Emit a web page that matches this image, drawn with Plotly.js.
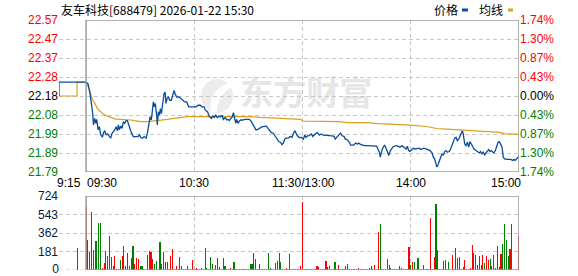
<!DOCTYPE html>
<html><head><meta charset="utf-8">
<script src="https://cdn.plot.ly/plotly-3.0.1.min.js"></script>
<style>html,body{margin:0;padding:0;background:#fff;}#chart{width:578px;height:276px;}</style>
</head><body><div id="chart"></div>
<script>
// ---------------- data ----------------
const stockName = "友车科技";
const stockCode = "688479";
const stamp = "2026-01-22 15:30";
const prevClose = 22.18;
const maxPct = 1.74;
const priceTickLabels = ["22.57","22.47","22.37","22.28","22.18","22.08","21.99","21.89","21.79"];
const pctTickLabels = ["1.74%","1.30%","0.87%","0.43%","0.00%","0.43%","0.87%","1.30%","1.74%"];
const volTickVals = [0,181,362,543,724];
const timeLabels = ["9:15","09:30","10:30","11:30/13:00","14:00","15:00"];
const timeLabelPos = [-15,0,60,120,180,240];   // minutes from 09:30
const legendNames = ["价格","均线"];
const watermark = "东方财富";

// price line (minutes from 09:30, price)
const priceTimes = [-15,-15,0,1.1,2.2,3.0,3.7,4.1,4.8,5.4,5.9,6.7,7.4,8.1,9.1,9.6,10.3,11.1,11.8,12.7,13.7,14.4,15.2,15.9,16.6,17.4,17.9,18.5,19.2,20.0,20.7,21.4,22.2,22.9,23.7,24.4,25.1,26.2,27.5,28.8,29.6,30.3,31.2,32.2,33.3,34.0,34.9,35.5,36.2,36.8,37.3,37.9,38.4,39.2,39.5,40.1,40.7,41.2,41.8,42.5,43.2,43.8,44.3,44.9,45.6,46.4,47.3,48.0,48.8,49.3,50.3,51.5,52.5,53.6,54.7,55.8,56.9,58.0,59.9,61.0,62.1,63.2,64.3,65.4,66.1,67.3,68.4,69.5,70.2,71.0,71.9,72.8,73.7,74.6,75.4,76.1,77.2,78.0,78.7,79.5,80.2,80.9,81.7,82.4,83.0,83.5,84.3,85.0,85.7,86.8,87.9,89.4,90.5,91.3,92.2,93.1,94.2,95.3,96.5,97.6,98.7,99.8,100.9,101.6,102.7,103.8,104.6,105.7,106.8,107.9,108.6,109.4,110.1,110.9,112.0,113.1,114.2,114.9,115.7,116.4,117.1,118.3,119.5,120.5,121.2,121.9,122.7,123.4,124.1,124.9,125.6,126.4,127.1,128.2,129.3,130.4,131.5,133.4,135.2,136.3,137.4,138.2,138.9,139.7,140.4,141.1,141.9,143.0,143.7,144.8,146.0,146.7,148.2,149.6,150.4,151.1,151.9,153.0,154.1,155.6,156.7,157.8,158.9,160.0,161.1,161.8,162.6,163.1,163.7,164.2,164.8,165.5,166.3,167.0,167.8,168.5,169.2,170.0,170.7,171.8,172.9,174.0,175.1,176.3,177.4,178.1,178.8,179.6,180.7,181.4,182.5,183.6,184.7,185.5,186.2,187.3,188.4,189.6,190.7,191.8,192.5,193.2,194.0,194.5,195.1,195.8,196.6,197.3,198.1,198.8,199.5,200.3,201.4,202.1,202.9,203.6,204.3,205.1,205.8,206.6,207.3,208.0,208.6,209.1,209.9,210.6,211.4,212.1,212.8,213.6,214.3,215.1,216.2,217.3,218.0,218.7,219.5,220.2,221.0,221.7,222.4,223.2,223.9,224.7,225.4,226.1,226.9,227.6,228.4,229.1,229.8,230.6,231.3,232.0,233.2,234.3,235.4,236.5,237.2,237.9,238.7,239.4,240.0];
const priceValues = [22.18,22.25,22.25,22.242,22.192,22.142,22.091,22.033,22.066,22.041,22.061,22.008,22.024,21.983,21.971,21.991,22.004,21.983,21.988,21.978,21.966,21.991,22.000,22.008,22.024,22.004,22.033,22.008,22.028,22.016,22.050,22.041,22.055,22.055,22.033,22.008,21.994,21.974,21.974,21.974,21.983,21.969,21.966,21.974,21.966,21.991,22.041,22.075,22.058,22.108,22.150,22.125,22.142,22.075,22.033,22.100,22.083,22.116,22.091,22.142,22.192,22.200,22.142,22.167,22.175,22.158,22.158,22.183,22.208,22.192,22.175,22.175,22.167,22.158,22.150,22.150,22.125,22.125,22.125,22.125,22.133,22.133,22.125,22.125,22.108,22.100,22.075,22.066,22.078,22.071,22.083,22.071,22.078,22.075,22.083,22.061,22.071,22.058,22.061,22.055,22.066,22.071,22.095,22.066,22.041,22.061,22.041,22.053,22.058,22.058,22.061,22.061,22.061,22.055,22.041,22.024,22.008,22.011,22.016,22.024,22.024,22.028,22.016,22.008,21.994,21.991,21.978,21.966,21.949,21.944,21.933,21.941,21.961,21.966,21.966,21.974,21.971,21.988,22.004,21.991,21.978,21.969,21.970,21.961,21.981,21.970,21.978,21.978,21.981,21.987,21.975,21.981,21.987,21.995,21.981,21.987,21.981,21.981,21.981,21.978,21.975,21.961,21.970,21.978,21.988,21.992,21.978,21.975,21.961,21.958,21.945,21.931,21.931,21.941,21.935,21.941,21.936,21.931,21.928,21.928,21.928,21.925,21.928,21.928,21.925,21.911,21.895,21.870,21.895,21.911,21.920,21.931,21.915,21.898,21.878,21.898,21.911,21.920,21.925,21.928,21.925,21.920,21.928,21.920,21.911,21.925,21.903,21.898,21.911,21.915,21.911,21.915,21.915,21.908,21.911,21.915,21.911,21.908,21.903,21.891,21.869,21.861,21.836,21.819,21.831,21.853,21.869,21.886,21.881,21.898,21.903,21.895,21.898,21.911,21.928,21.948,21.965,21.970,21.953,21.961,21.978,21.995,22.003,21.987,21.936,21.928,21.945,21.920,21.948,21.936,21.920,21.911,21.903,21.898,21.891,21.898,21.886,21.895,21.881,21.891,21.898,21.908,21.898,21.903,21.895,21.891,21.903,21.928,21.945,21.948,21.936,21.920,21.869,21.861,21.858,21.858,21.858,21.853,21.858,21.853,21.861,21.869,21.874];

// average price line
const avgTimes = [-15,-5,-5,0,1.7,2.6,3.5,4.4,5.4,6.3,8.1,10.0,11.8,13.7,16.4,19.2,22.9,24.8,26.6,30.3,34.0,37.7,41.4,45.1,48.8,52.5,56.2,72.8,91.3,96.8,106.1,113.5,119.0,120.4,129.7,140.8,144.5,155.6,162.0,170.3,179.6,188.8,194.4,199.9,207.3,214.7,222.1,229.5,232.2,240.0];
const avgValues = [22.18,22.18,22.25,22.25,22.217,22.183,22.162,22.150,22.133,22.116,22.100,22.086,22.078,22.071,22.063,22.061,22.061,22.058,22.055,22.050,22.050,22.053,22.055,22.061,22.066,22.070,22.075,22.075,22.075,22.071,22.066,22.063,22.061,22.052,22.050,22.050,22.045,22.045,22.040,22.037,22.032,22.025,22.015,22.012,22.008,22.003,21.998,21.995,21.988,21.985];

// volume: 09:25 auction, then one bar per minute 09:30 .. 15:00 (241 bars)
const auctionTime = -5;
const auctionVolume = 215;
const auctionDir = 1;
const volumes = [629,292,177,570,193,282,282,462,462,20,72,183,138,334,128,39,138,7,7,95,138,236,39,167,39,118,236,59,118,111,39,39,7,7,151,183,177,111,59,85,13,275,59,177,79,79,13,138,210,7,39,13,128,39,13,7,39,7,13,95,7,20,13,13,20,13,216,20,13,128,59,13,46,118,30,13,118,39,13,7,20,13,79,13,7,13,7,13,7,7,7,62,62,167,111,13,62,7,13,13,13,167,20,7,13,69,88,167,79,7,13,20,13,157,7,13,13,13,13,39,668,
7,7,7,7,7,7,7,39,29,7,7,7,88,29,39,7,7,79,7,46,7,7,7,39,59,7,7,7,7,7,20,7,7,7,7,7,20,39,7,52,7,373,452,7,7,7,105,52,20,7,7,7,7,39,20,7,7,7,226,52,79,79,7,118,7,7,52,7,7,7,511,7,128,642,193,7,7,85,98,7,79,7,147,7,216,118,128,7,29,95,7,13,20,249,167,144,52,138,52,147,72,138,95,111,39,147,20,236,26,157,255,452,295,138,203,452,0,0,0,328];
const volDirs = [1,-1,-1,-1,-1,1,-1,-1,-1,1,1,1,-1,-1,1,1,1,-1,1,-1,1,1,1,-1,1,-1,-1,1,1,1,-1,-1,-1,-1,1,1,1,1,-1,-1,1,-1,1,1,-1,1,1,1,1,-1,1,-1,-1,-1,-1,1,-1,1,1,1,-1,1,-1,1,1,-1,-1,-1,1,-1,-1,-1,1,-1,1,1,-1,-1,1,-1,1,-1,-1,1,-1,1,1,1,-1,-1,-1,-1,-1,-1,-1,1,1,-1,1,1,1,-1,-1,1,1,-1,-1,1,-1,1,1,1,1,1,-1,1,-1,-1,1,1,1,
-1,1,1,1,-1,-1,1,1,1,-1,1,1,1,1,1,1,-1,-1,-1,1,1,1,-1,1,-1,1,1,-1,1,1,1,-1,1,1,1,1,1,1,1,1,1,1,-1,-1,1,1,1,-1,-1,1,-1,1,1,-1,1,1,-1,1,1,-1,1,-1,1,-1,1,1,1,-1,-1,1,1,-1,1,-1,-1,1,1,1,1,1,-1,-1,1,1,1,1,1,-1,1,1,-1,1,1,1,-1,1,-1,1,-1,1,-1,1,1,-1,-1,1,-1,1,-1,1,-1,-1,-1,-1,1,1,1,-1,1,1,1,1];

// ---------------- derived ----------------
const yLo = prevClose * (1 - maxPct / 100);
const yHi = prevClose * (1 + maxPct / 100);
const steps = [4,3,2,1,0,-1,-2,-3,-4];
const priceTickVals = steps.map(k => prevClose * (1 + k * maxPct / 400));
const RED = '#ff0000', GREEN = '#008000', BLACK = '#000000';
const stepColor = k => k > 0 ? RED : (k < 0 ? GREEN : BLACK);
const priceTickText = priceTickLabels.map((t, j) => `<span style="color:${stepColor(steps[j])}">${t}</span>`);
const pctTickText = pctTickLabels.map((t, j) => `<span style="color:${stepColor(steps[j])}">${t}</span>`);
const volX = [auctionTime].concat(volumes.map((v, j) => j));
const volY = [auctionVolume].concat(volumes);
const volC = [auctionDir].concat(volDirs).map(d => d > 0 ? RED : GREEN);
const volMax = volTickVals[volTickVals.length - 1];
const volUpperTicks = volTickVals.filter(v => v > 0);

const BLUE = '#0a4d9c', GOLD = '#dba11f';
const GRID = '#c8c8c8', FRAME = '#9a9a9a';
const NUMFONT = 'Liberation Sans, Arial, sans-serif';
const CJK = 'Noto Sans CJK SC, sans-serif';
const VOLLABEL = '#0b1a3a';

const traces = [
  {x: avgTimes, y: avgValues, type: 'scatter', mode: 'lines', xaxis: 'x', yaxis: 'y',
   line: {color: GOLD, width: 1.2}, hoverinfo: 'skip'},
  {x: priceTimes, y: priceValues, type: 'scatter', mode: 'lines', xaxis: 'x', yaxis: 'y',
   line: {color: BLUE, width: 1.3}, hoverinfo: 'skip'},
  {x: [0], y: [prevClose], type: 'scatter', mode: 'lines', xaxis: 'x', yaxis: 'y3',
   line: {color: 'rgba(0,0,0,0)'}, hoverinfo: 'skip'},
  {x: volX, y: volY, type: 'bar', xaxis: 'x2', yaxis: 'y2', width: 0.6,
   marker: {color: volC, line: {width: 0}}, hoverinfo: 'skip'},
  // the "0" label of the volume axis (sits on the panel's bottom edge)
  {x: [-15], y: [volTickVals[0]], type: 'scatter', mode: 'text', xaxis: 'x2', yaxis: 'y2',
   text: [String(volTickVals[0])], textposition: 'middle left', cliponaxis: false,
   textfont: {family: NUMFONT, size: 12, color: VOLLABEL}, hoverinfo: 'skip'}
];

const gridX = {tickvals: [-15, 60, 120, 180], showticklabels: false, ticks: '', showgrid: true,
  gridcolor: GRID, griddash: '4px,3px', gridwidth: 1, zeroline: false, showline: false,
  range: [-15, 240], fixedrange: true};

const layout = {
  width: 578, height: 276,
  margin: {l: 59, r: 59, t: 20, b: 6, pad: 0},
  paper_bgcolor: '#ffffff', plot_bgcolor: 'rgba(0,0,0,0)',
  showlegend: false, bargap: 0,
  font: {family: NUMFONT, size: 12, color: BLACK},
  xaxis: Object.assign({domain: [0, 1], anchor: 'y'}, gridX),
  xaxis2: Object.assign({domain: [0, 1], anchor: 'y2'}, gridX),
  yaxis: {domain: [0.392, 1], range: [yLo, yHi], tickvals: priceTickVals, ticktext: priceTickText,
    ticks: '', showgrid: true, gridcolor: GRID, griddash: '4px,3px', gridwidth: 1,
    zeroline: false, showline: false, fixedrange: true, tickfont: {family: NUMFONT, size: 12}},
  yaxis3: {overlaying: 'y', side: 'right', anchor: 'x', range: [yLo, yHi], tickvals: priceTickVals,
    ticktext: pctTickText, ticks: '', showgrid: false, zeroline: false, showline: false,
    fixedrange: true, tickfont: {family: NUMFONT, size: 12}},
  yaxis2: {domain: [0, 0.296], range: [0, volMax], tickvals: volUpperTicks, ticktext: volUpperTicks.map(String),
    ticks: '', showgrid: true, gridcolor: GRID, griddash: '4px,3px', gridwidth: 1,
    zeroline: false, showline: false, fixedrange: true,
    tickfont: {family: NUMFONT, size: 12, color: VOLLABEL}},
  shapes: [
    // watermark logo + text (below traces)
    {type: 'circle', xref: 'paper', yref: 'paper', x0: 0.3087, x1: 0.3783, y0: 0.628, y1: 0.764,
     fillcolor: '#ececec', line: {width: 0}, layer: 'below'},
    {type: 'path', xref: 'paper', yref: 'paper',
     path: 'M 0.372,0.752 Q 0.322,0.715 0.330,0.632 L 0.343,0.632 Q 0.345,0.705 0.378,0.735 Z',
     fillcolor: '#ffffff', line: {width: 0}, layer: 'below'},
    {type: 'rect', xref: 'paper', yref: 'paper', x0: 0.385, x1: 0.69, y0: 0.62, y1: 0.77,
     line: {width: 0}, fillcolor: 'rgba(0,0,0,0)', layer: 'below',
     label: {text: watermark, textposition: 'middle center',
       font: {family: CJK, size: 33, color: '#e6e6e6', weight: 700}}},
    // dashed bottom grid line of volume panel (pre-market part)
    {type: 'line', xref: 'x2', yref: 'y2', x0: -15, x1: 0, y0: 0, y1: 0,
     line: {color: GRID, width: 1, dash: '4px,3px'}, layer: 'below'},
    // frames
    {type: 'rect', xref: 'x', yref: 'y', x0: 0, x1: 240, y0: yLo, y1: yHi,
     line: {color: FRAME, width: 1.5}, fillcolor: 'rgba(0,0,0,0)', layer: 'above'},
    {type: 'rect', xref: 'x2', yref: 'y2', x0: 0, x1: 240, y0: 0, y1: volMax,
     line: {color: FRAME, width: 1.5}, fillcolor: 'rgba(0,0,0,0)', layer: 'above'},
    // legend swatches
    {type: 'rect', xref: 'paper', yref: 'paper', x0: 0.876, x1: 0.889, y0: 1.034, y1: 1.046,
     fillcolor: BLUE, line: {width: 0}},
    {type: 'rect', xref: 'paper', yref: 'paper', x0: 0.976, x1: 0.987, y0: 1.034, y1: 1.046,
     fillcolor: GOLD, line: {width: 0}}
  ],
  annotations: []
};

// title
layout.annotations.push({xref: 'paper', yref: 'paper', x: 0, y: 1.04, xanchor: 'left', yanchor: 'middle',
  text: `${stockName}[${stockCode}] ${stamp}`, showarrow: false,
  font: {family: CJK, size: 12, color: BLACK}});
// legend labels
layout.annotations.push({xref: 'paper', yref: 'paper', x: 0.8109, y: 1.04, xanchor: 'left', yanchor: 'middle',
  text: legendNames[0], showarrow: false, font: {family: CJK, size: 12, color: BLACK}});
layout.annotations.push({xref: 'paper', yref: 'paper', x: 0.9087, y: 1.04, xanchor: 'left', yanchor: 'middle',
  text: legendNames[1], showarrow: false, font: {family: CJK, size: 12, color: BLACK}});
// time labels
const anchors = ['left', 'left', 'center', 'center', 'center', 'right'];
const shifts = [-4, -1, 0, 1, 0, 4];
timeLabels.forEach((t, j) => {
  layout.annotations.push({xref: 'x', yref: 'paper', x: timeLabelPos[j], y: 0.35,
    xanchor: anchors[j], yanchor: 'middle', xshift: shifts[j], text: t, showarrow: false,
    font: {family: NUMFONT, size: 12, color: BLACK}});
});

Plotly.newPlot('chart', traces, layout, {staticPlot: true, displayModeBar: false});
</script></body></html>
